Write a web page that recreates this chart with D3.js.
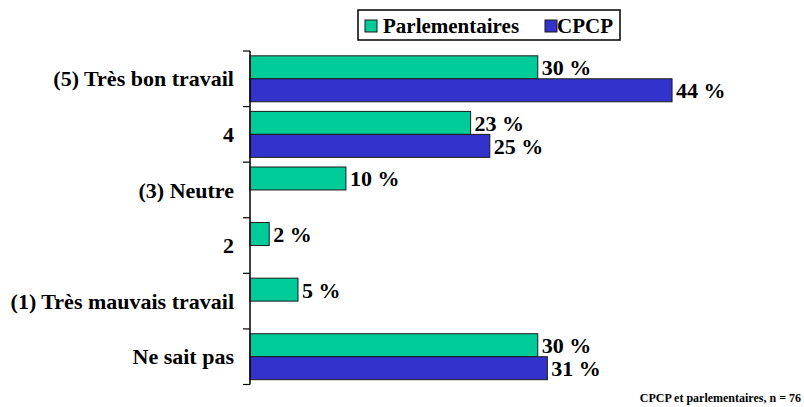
<!DOCTYPE html>
<html>
<head>
<meta charset="utf-8">
<script src="https://cdn.jsdelivr.net/npm/d3@7"></script>
<style>
  html, body { margin: 0; padding: 0; background: #fff; }
</style>
</head>
<body>
<svg id="chart" width="804" height="407"></svg>
<script>
const categories = ["(5) Très bon travail", "4", "(3) Neutre", "2", "(1) Très mauvais travail", "Ne sait pas"];
const seriesNames = ["Parlementaires", "CPCP"];
const parlementaires = [30, 23, 10, 2, 5, 30];
const cpcp = [44, 25, null, null, null, 31];
const seriesColors = ["#00CC99", "#3333CC"];
const footnote = "CPCP et parlementaires, n = 76";

const FONT = "'Liberation Serif'";
const svg = d3.select("#chart");
const seriesValues = [parlementaires, cpcp];

const x = d3.scaleLinear().domain([0, 50]).range([250, 729.6]);
const y0 = d3.scaleBand().domain(categories).range([51, 384.5]).padding(0);
const y1 = d3.scaleBand().domain(seriesNames).range([0, y0.bandwidth()]).paddingInner(0).paddingOuter(0.21);
const color = d3.scaleOrdinal().domain(seriesNames).range(seriesColors);

const data = [];
categories.forEach((c, i) => {
  seriesNames.forEach((s, j) => {
    const v = seriesValues[j][i];
    if (v !== null && v !== undefined) data.push({ cat: c, series: s, value: v });
  });
});

function styleText(sel, size) {
  sel.style("font-family", FONT).style("font-weight", "bold").style("font-size", size).attr("fill", "#000");
}

// bars
svg.append("g").selectAll("rect").data(data).join("rect")
  .attr("x", x(0))
  .attr("y", d => y0(d.cat) + y1(d.series))
  .attr("width", d => x(d.value) - x(0))
  .attr("height", y1.bandwidth())
  .attr("fill", d => color(d.series))
  .attr("stroke", "#1a1a1a")
  .attr("stroke-width", 1);

// value labels
svg.append("g").selectAll("text").data(data).join("text")
  .attr("x", d => x(d.value) + 4)
  .attr("y", d => y0(d.cat) + y1(d.series) + y1.bandwidth() / 2 + 8)
  .call(styleText, "22px")
  .text(d => d.value + " %");

// y axis labels
const axis = d3.axisLeft(y0).tickSize(0).tickPadding(16).tickFormat(d => d);
const gAxis = svg.append("g").attr("transform", `translate(${x(0)},0)`).call(axis);
gAxis.attr("font-family", null).attr("font-size", null);
gAxis.select(".domain").remove();
gAxis.selectAll("text").call(styleText, "22px").attr("dy", "0.35em");

// axis line and boundary ticks
svg.append("line")
  .attr("x1", x(0)).attr("x2", x(0))
  .attr("y1", y0.range()[0]).attr("y2", y0.range()[1])
  .attr("stroke", "#000").attr("stroke-width", 1.5);
const boundaries = categories.map(c => y0(c)).concat([y0.range()[1]]);
svg.append("g").selectAll("line").data(boundaries).join("line")
  .attr("x1", x(0) - 7).attr("x2", x(0))
  .attr("y1", d => d).attr("y2", d => d)
  .attr("stroke", "#000").attr("stroke-width", 1.2);

// legend
const legend = svg.append("g");
legend.append("rect")
  .attr("x", 358).attr("y", 10).attr("width", 262).attr("height", 30)
  .attr("fill", "#fff").attr("stroke", "#000").attr("stroke-width", 1.5);
const legendPos = [{ sq: 365, tx: 383 }, { sq: 545, tx: 557 }];
seriesNames.forEach((s, i) => {
  legend.append("rect")
    .attr("x", legendPos[i].sq).attr("y", 20).attr("width", 12).attr("height", 12)
    .attr("fill", color(s)).attr("stroke", "#1a1a1a").attr("stroke-width", 1);
  legend.append("text")
    .attr("x", legendPos[i].tx).attr("y", 33)
    .call(styleText, "21px")
    .text(s);
});

// footnote
svg.append("text")
  .attr("x", 801).attr("y", 402)
  .attr("text-anchor", "end")
  .call(styleText, "12px")
  .text(footnote);
</script>
</body>
</html>
